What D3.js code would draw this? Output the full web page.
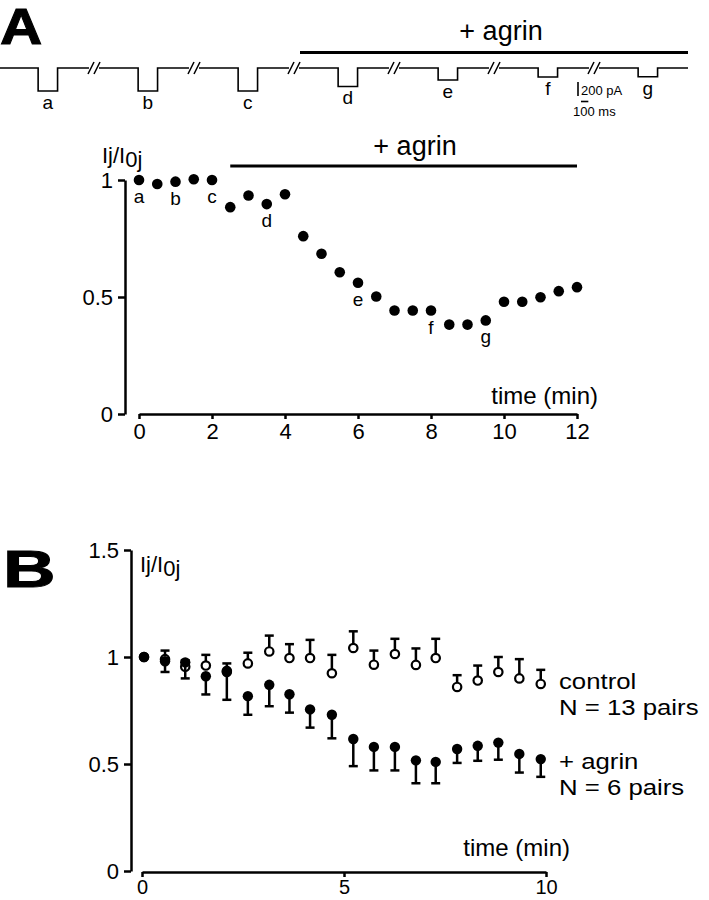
<!DOCTYPE html>
<html><head><meta charset="utf-8">
<script src="https://cdn.jsdelivr.net/npm/d3@7"></script>
<style>
body{margin:0;background:#fff}
svg{display:block}
text{font-family:"Liberation Sans",Arial,Helvetica,sans-serif;fill:#000}
</style>
</head><body>
<svg id="chart" width="709" height="900"></svg>
<script>
// ---------------- DATA ----------------
// Panel A, top: current traces (pulse amplitudes in pA)
const traceLabels = ["a","b","c","d","e","f","g"];
const traceAmplitudes = [329, 329, 329, 264, 171, 129, 124];
const traceAgrinFrom = "d";
const pulseOnsetMs = 520, pulseDurationMs = 265, sweepMs = 1200;
const scaleBarPA = 200, scaleBarMs = 100;

// Panel A, plot: normalized junctional current
const timeA  = [0,0.5,1,1.5,2,2.5,3,3.5,4,4.5,5,5.5,6,6.5,7,7.5,8,8.5,9,9.5,10,10.5,11,11.5,12];
const ratioA = [1.0,0.983,0.993,1.003,1.0,0.884,0.934,0.897,0.939,0.76,0.685,0.606,0.561,0.502,0.442,0.442,0.442,0.382,0.382,0.40,0.48,0.48,0.499,0.525,0.542];
const labelTimesA = [0,1,2,3.5,6,8,9.5];
const agrinWindowA = [2.5, 12];
const xTicksA = [0,2,4,6,8,10,12];
const yTicksA = [0,0.5,1];

// Panel B: mean ± SEM
const timeB = [0.05,0.57,1.07,1.58,2.1,2.62,3.15,3.65,4.16,4.7,5.23,5.74,6.26,6.78,7.27,7.8,8.31,8.82,9.34,9.87];
const controlMean = [1.0,0.99,0.955,0.96,0.935,0.97,1.026,0.995,0.995,0.924,1.042,0.964,1.014,0.963,0.995,0.86,0.89,0.93,0.9,0.874];
const controlSem  = [0,0.04,0.03,0.05,0.035,0.05,0.074,0.065,0.085,0.086,0.078,0.066,0.071,0.077,0.09,0.055,0.07,0.07,0.09,0.066];
const agrinMean   = [1.0,0.98,0.975,0.91,0.93,0.817,0.87,0.826,0.755,0.73,0.617,0.58,0.58,0.517,0.51,0.57,0.585,0.60,0.547,0.523];
const agrinSem    = [0,0.05,0.075,0.085,0.13,0.087,0.1,0.086,0.085,0.11,0.127,0.11,0.11,0.107,0.1,0.065,0.07,0.08,0.087,0.083];
const xTicksB = [0,5,10];
const yTicksB = [0,0.5,1,1.5];
const legendB = [["control","N = 13 pairs"],["+ agrin","N = 6 pairs"]];

// ---------------- DRAW ----------------
const svg = d3.select("#chart");
const FONT = '"Liberation Sans",Arial,Helvetica,sans-serif';
const AX = 2.5;

// Panel letters
svg.append("text").attr("transform","translate(0,44) scale(1.17,1)")
  .attr("font-size",50).attr("font-weight","bold").attr("stroke","#000").attr("stroke-width",1).text("A");
svg.append("text").attr("transform","translate(3,587) scale(1.4,1)")
  .attr("font-size",52).attr("font-weight","bold").attr("stroke","#000").attr("stroke-width",1).text("B");

// ---- Traces ----
const seg = d3.scaleBand().domain(traceLabels).range([0,688]).paddingInner(0.12).paddingOuter(0);
const tMs = d3.scaleLinear().domain([0,sweepMs]).range([0,seg.bandwidth()]);
const iPA = d3.scaleLinear().domain([0,-scaleBarPA]).range([68,82]);
const traceG = svg.append("g");
traceLabels.forEach((lab,i)=>{
  const x0 = seg(lab);
  const amp = traceAmplitudes[i];
  const pts = [[0,0],[pulseOnsetMs,0],[pulseOnsetMs,-amp],[pulseOnsetMs+pulseDurationMs,-amp],[pulseOnsetMs+pulseDurationMs,0],[sweepMs,0]];
  traceG.append("path")
    .attr("d", d3.line().x(d=>x0+tMs(d[0])).y(d=>iPA(d[1]))(pts))
    .attr("fill","none").attr("stroke","#000").attr("stroke-width",1.6);
  traceG.append("text")
    .attr("x", x0+tMs(pulseOnsetMs+pulseDurationMs/2))
    .attr("y", iPA(-amp)+18)
    .attr("text-anchor","middle").attr("font-size",19).text(lab);
  if(i < traceLabels.length-1){
    const gx = x0 + seg.bandwidth() + (seg.step()-seg.bandwidth())/2;
    [-3,3].forEach(o=>{
      traceG.append("line").attr("x1",gx+o-3).attr("y1",iPA(0)+6).attr("x2",gx+o+3).attr("y2",iPA(0)-6)
        .attr("stroke","#000").attr("stroke-width",1.6);
    });
    traceG.append("line").attr("x1",x0+seg.bandwidth()).attr("x2",gx-5).attr("y1",iPA(0)).attr("y2",iPA(0)).attr("stroke","#000").attr("stroke-width",1.6);
    traceG.append("line").attr("x1",gx+5).attr("x2",seg(traceLabels[i+1])).attr("y1",iPA(0)).attr("y2",iPA(0)).attr("stroke","#000").attr("stroke-width",1.6);
  }
});
// agrin bar over traces
const agX0 = seg(traceAgrinFrom), agX1 = seg(traceLabels[traceLabels.length-1])+seg.bandwidth();
traceG.append("line").attr("x1",agX0).attr("x2",agX1).attr("y1",52.5).attr("y2",52.5).attr("stroke","#000").attr("stroke-width",3);
traceG.append("text").attr("x",(agX0+agX1)/2+7).attr("y",40).attr("text-anchor","middle").attr("font-size",27).text("+ agrin");
// scale bar
const sbX = 578, sbY = 82;
traceG.append("line").attr("x1",sbX).attr("x2",sbX).attr("y1",sbY).attr("y2",sbY+(iPA(-scaleBarPA)-iPA(0))).attr("stroke","#000").attr("stroke-width",1.6);
traceG.append("text").attr("x",sbX+3).attr("y",sbY+13).attr("font-size",13).text(scaleBarPA+" pA");
traceG.append("line").attr("x1",sbX+3).attr("x2",sbX+3+tMs(scaleBarMs)).attr("y1",101.5).attr("y2",101.5).attr("stroke","#000").attr("stroke-width",1.6);
traceG.append("text").attr("x",sbX-5).attr("y",116).attr("font-size",13).text(scaleBarMs+" ms");

// ---- Panel A plot ----
const xA = d3.scaleLinear().domain([0,12]).range([139,577]);
const yA = d3.scaleLinear().domain([0,1]).range([414,180]);
function styleAxis(g, fs){
  g.attr("font-family",FONT).attr("font-size",fs);
  g.select(".domain").attr("stroke-width",AX);
  g.selectAll(".tick line").attr("stroke-width",AX);
  g.selectAll(".tick text").attr("fill","#000");
}
svg.append("g").attr("transform","translate(125,0)")
  .call(d3.axisLeft(yA).tickValues(yTicksA).tickSize(7).tickSizeOuter(0).tickPadding(5).tickFormat(d=>String(d)))
  .call(g=>styleAxis(g,22));
svg.append("g").attr("transform","translate(0,414)")
  .call(d3.axisBottom(xA).tickValues(xTicksA).tickSize(5).tickSizeOuter(0).tickPadding(4).tickFormat(d=>String(d)))
  .call(g=>styleAxis(g,22));
svg.append("g").selectAll("circle").data(timeA).join("circle")
  .attr("cx",d=>xA(d)).attr("cy",(d,i)=>yA(ratioA[i])).attr("r",5.3).attr("fill","#000");
svg.append("g").selectAll("text").data(labelTimesA).join("text")
  .attr("x",d=>xA(d)).attr("y",d=>yA(ratioA[timeA.indexOf(d)])+23)
  .attr("text-anchor","middle").attr("font-size",19).text((d,i)=>traceLabels[i]);
svg.append("line").attr("x1",xA(agrinWindowA[0])).attr("x2",xA(agrinWindowA[1])).attr("y1",166).attr("y2",166).attr("stroke","#000").attr("stroke-width",3);
svg.append("text").attr("x",415).attr("y",155).attr("text-anchor","middle").attr("font-size",27).text("+ agrin");
const ylabA = svg.append("text").attr("x",102).attr("y",163).attr("font-size",22);
ylabA.append("tspan").text("Ij/I");
ylabA.append("tspan").attr("dy",4).text("0j");
svg.append("text").attr("x",598).attr("y",404).attr("text-anchor","end").attr("font-size",24).text("time (min)");

// ---- Panel B plot ----
const xB = d3.scaleLinear().domain([0,10]).range([142,546]);
const yB = d3.scaleLinear().domain([0,1.5]).range([871,550]);
svg.append("g").attr("transform","translate(131,0)")
  .call(d3.axisLeft(yB).tickValues(yTicksB).tickSize(7).tickSizeOuter(0).tickPadding(5).tickFormat(d=>String(d)))
  .call(g=>styleAxis(g,22));
svg.append("g").attr("transform","translate(0,872)")
  .call(d3.axisBottom(xB).tickValues(xTicksB).tickSize(5).tickSizeOuter(0).tickPadding(3).tickFormat(d=>String(d)))
  .call(g=>styleAxis(g,20));

const capW = 4.5;
const ctrlG = svg.append("g");
timeB.forEach((t,i)=>{
  if(controlSem[i]>0){
    const x = xB(t), y0 = yB(controlMean[i]), y1 = yB(controlMean[i]+controlSem[i]);
    ctrlG.append("line").attr("x1",x).attr("x2",x).attr("y1",y0).attr("y2",y1).attr("stroke","#000").attr("stroke-width",2.5);
    ctrlG.append("line").attr("x1",x-capW).attr("x2",x+capW).attr("y1",y1).attr("y2",y1).attr("stroke","#000").attr("stroke-width",2.5);
  }
});
ctrlG.selectAll("circle").data(timeB).join("circle")
  .attr("cx",d=>xB(d)).attr("cy",(d,i)=>yB(controlMean[i])).attr("r",4.2)
  .attr("fill","#fff").attr("stroke","#000").attr("stroke-width",2.2);

const agG = svg.append("g");
timeB.forEach((t,i)=>{
  if(agrinSem[i]>0){
    const x = xB(t), y0 = yB(agrinMean[i]), y1 = yB(agrinMean[i]-agrinSem[i]);
    agG.append("line").attr("x1",x).attr("x2",x).attr("y1",y0).attr("y2",y1).attr("stroke","#000").attr("stroke-width",2.5);
    agG.append("line").attr("x1",x-capW).attr("x2",x+capW).attr("y1",y1).attr("y2",y1).attr("stroke","#000").attr("stroke-width",2.5);
  }
});
agG.selectAll("circle").data(timeB).join("circle")
  .attr("cx",d=>xB(d)).attr("cy",(d,i)=>yB(agrinMean[i])).attr("r",5.2).attr("fill","#000");

const ylabB = svg.append("text").attr("x",140).attr("y",572).attr("font-size",22);
ylabB.append("tspan").text("Ij/I");
ylabB.append("tspan").attr("dy",4).text("0j");
svg.append("text").attr("x",570).attr("y",856).attr("text-anchor","end").attr("font-size",24).text("time (min)");

const legY = [689,769];
legendB.forEach((lines,k)=>{
  lines.forEach((s,j)=>{
    svg.append("text").attr("transform",`translate(559,${legY[k]+j*26}) scale(1.12,1)`)
      .attr("font-size",23).text(s);
  });
});
</script>
</body></html>
